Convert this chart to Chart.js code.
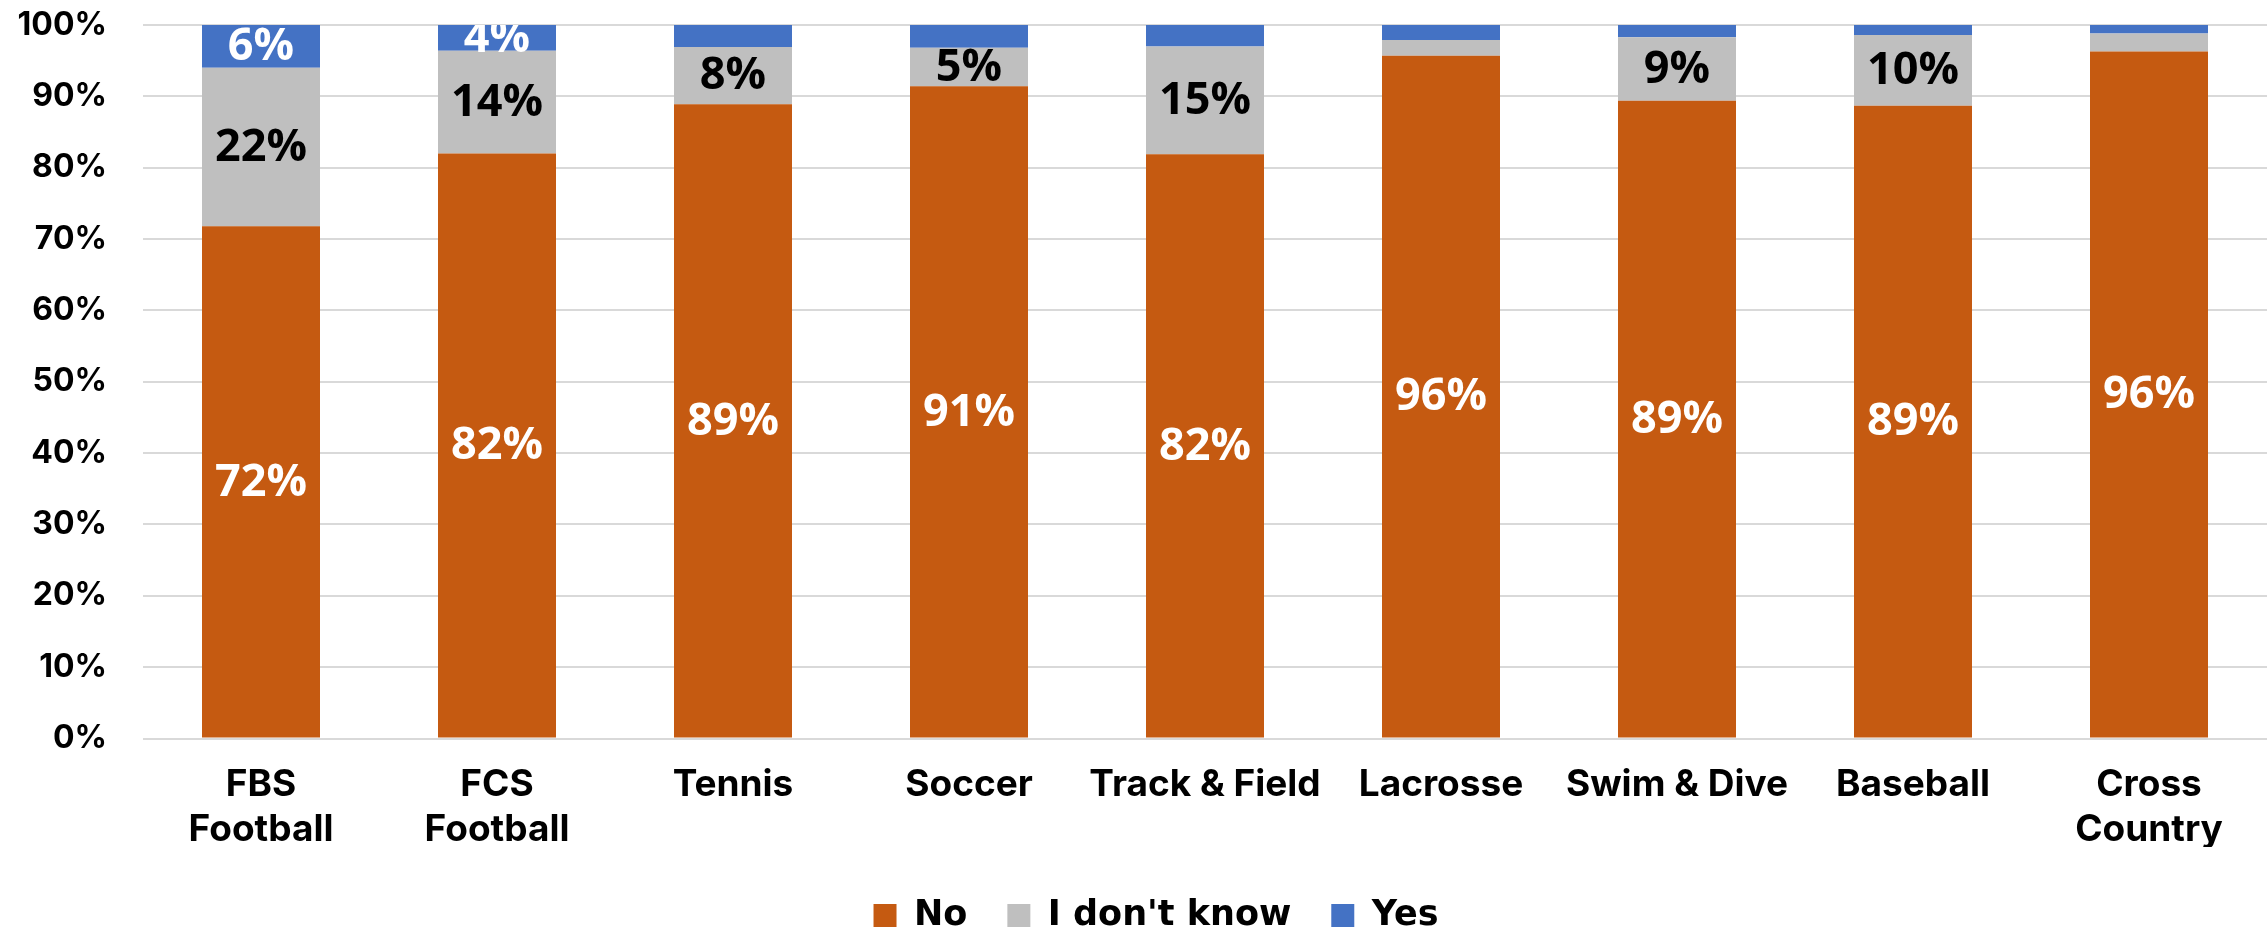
<!DOCTYPE html>
<html>
<head>
<meta charset="utf-8">
<script src="https://cdn.jsdelivr.net/npm/chart.js@4"></script>
<style>
  html, body { margin: 0; padding: 0; background: #ffffff; }
  #wrap { width: 2267px; height: 932px; position: relative; }
</style>
</head>
<body>
<div id="wrap"><canvas id="c"></canvas></div>
<script>
// ---- data ----
const categories = [
  ['FBS', 'Football'],
  ['FCS', 'Football'],
  'Tennis',
  'Soccer',
  'Track & Field',
  'Lacrosse',
  'Swim & Dive',
  'Baseball',
  ['Cross', 'Country']
];
const noValues       = [71.8, 82.0, 88.9, 91.4, 81.9, 95.7, 89.4, 88.7, 96.3];
const dontKnowValues = [22.2, 14.4, 8.0, 5.4, 15.1, 2.2, 8.9, 9.9, 2.5];
const yesValues      = [6.0, 3.6, 3.1, 3.2, 3.0, 2.1, 1.7, 1.4, 1.2];
const seriesNames = ['No', "I don't know", 'Yes'];
const yTickValues = [0, 10, 20, 30, 40, 50, 60, 70, 80, 90, 100];

const COLORS = ['#C55A11', '#BFBFBF', '#4472C4'];
const LABEL_COLORS = ['#ffffff', '#000000', '#ffffff'];

const dataLabelPlugin = {
  id: 'segLabels',
  afterDatasetsDraw(chart) {
    const ctx = chart.ctx;
    const area = chart.chartArea;
    ctx.save();
    ctx.beginPath();
    ctx.rect(area.left, area.top, area.right - area.left, area.bottom - area.top);
    ctx.clip();
    ctx.font = '700 45px "Open Sans"';
    ctx.textAlign = 'center';
    ctx.textBaseline = 'middle';
    chart.data.datasets.forEach((ds, di) => {
      const meta = chart.getDatasetMeta(di);
      meta.data.forEach((bar, i) => {
        const v = ds.data[i];
        const r = Math.round(v);
        if (r < 4) return;
        ctx.fillStyle = LABEL_COLORS[di];
        ctx.fillText(r + '%', bar.x, (bar.y + bar.base) / 2 + 1);
      });
    });
    ctx.restore();
  }
};

const legendShift = {
  id: 'legendShift',
  afterLayout(chart) {
    const lg = chart.legend;
    if (!lg) return;
    const dy = 858 - lg.top;   // legend top
    lg.top += dy; lg.bottom += dy;
    lg.left += 45;             // center legend a little right of canvas center
  }
};

new Chart(document.getElementById('c'), {
  type: 'bar',
  data: {
    labels: categories,
    datasets: [
      { label: seriesNames[0], data: noValues, backgroundColor: COLORS[0] },
      { label: seriesNames[1], data: dontKnowValues, backgroundColor: COLORS[1] },
      { label: seriesNames[2], data: yesValues, backgroundColor: COLORS[2] }
    ]
  },
  options: {
    responsive: true,
    maintainAspectRatio: false,
    animation: false,
    devicePixelRatio: 1,
    layout: { padding: { top: 25, left: 0, right: 0, bottom: 0 } },
    datasets: { bar: { barPercentage: 0.5, categoryPercentage: 1.0, borderWidth: 0 } },
    scales: {
      x: {
        stacked: true,
        grid: { display: false, drawTicks: false },
        border: { display: false },
        ticks: {
          color: '#000000',
          font: { family: 'Inter', weight: '700', size: 37, lineHeight: 1.22 },
          padding: 24,
          autoSkip: false,
          maxRotation: 0,
          minRotation: 0
        },
        afterFit(scale) { scale.height = 108.5; scale.paddingLeft = 0; scale.paddingRight = 0; }
      },
      y: {
        stacked: true,
        min: 0,
        max: 100,
        afterBuildTicks(scale) { scale.ticks = yTickValues.map(v => ({ value: v })); },
        grid: { color: '#D9D9D9', lineWidth: 2, drawTicks: false },
        border: { display: false },
        ticks: {
          color: '#000000',
          font: { family: 'Inter', weight: '700', size: 32 },
          padding: 36,
          callback: v => v + '%'
        },
        afterFit(scale) { scale.width = 143; scale.paddingTop = 0; scale.paddingBottom = 0; }
      }
    },
    plugins: {
      legend: {
        position: 'bottom',
        labels: {
          color: '#000000',
          font: { family: 'DejaVu Sans', weight: 'bold', size: 35 },
          boxWidth: 23,
          boxHeight: 23,
          padding: 40
        }
      },
      tooltip: { enabled: false },
      title: { display: false }
    }
  },
  plugins: [dataLabelPlugin, legendShift]
});
</script>
</body>
</html>
